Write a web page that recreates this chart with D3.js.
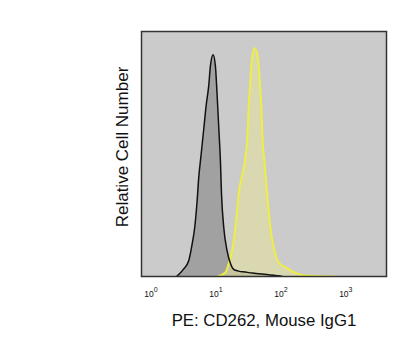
<!DOCTYPE html>
<html>
<head>
<meta charset="utf-8">
<script src="https://cdn.jsdelivr.net/npm/d3@7"></script>
<style>
html,body{margin:0;padding:0;background:#fff;}
svg{display:block;}
</style>
</head>
<body>
<svg id="chart" width="406" height="360"></svg>
<script>
// Fluorescence intensity (PE) and relative cell number (% of plot height)
const isotypeX = [2.7, 3.49, 4.17, 4.70, 5.15, 5.61, 5.94, 6.31, 7.10, 7.72, 8.47, 8.99, 9.89, 10.7, 11.4, 12.1, 12.8, 13.3, 14.4, 16.2, 18.3, 20.5, 24.3, 31.1, 40, 49.8, 60, 71.0, 85, 101, 115];
const isotypeY = [0, 3.1, 6.5, 13.3, 20.1, 31.0, 40.5, 47.3, 60.3, 69.8, 78.0, 86.1, 90.5, 86.1, 73.9, 60.3, 47.3, 33.9, 20.1, 10.6, 5.3, 2.9, 2.2, 1.8, 1.4, 1.1, 0.9, 0.7, 0.5, 0.3, 0];
const cd262X = [11.5, 15.3, 17.2, 19.4, 21.8, 24.5, 30.5, 33.0, 34.9, 37.1, 39.4, 43.2, 48.1, 51.6, 54.7, 57.3, 60.9, 67.0, 75.3, 84.7, 101, 128, 172, 260, 528, 753];
const cd262Y = [0, 1.6, 5.2, 10.6, 20.1, 33.8, 47.3, 55.5, 69.1, 80.0, 89.5, 93.3, 89.5, 80.0, 69.1, 55.5, 47.3, 33.8, 20.1, 12.0, 5.8, 3.8, 1.8, 0.4, 0.1, 0];
const tickValues = [1, 10, 100, 1000];
const tickExponents = ["0", "1", "2", "3"];
const xTitle = "PE: CD262, Mouse IgG1";
const yTitle = "Relative Cell Number";

const svg = d3.select("#chart");
const plot = {left: 141.5, top: 31.5, right: 386.5, bottom: 276.5};

const x = d3.scaleLog()
  .domain([Math.pow(10, -0.108), Math.pow(10, 3.665)])
  .range([plot.left, plot.right]);
const y = d3.scaleLinear().domain([0, 100]).range([plot.bottom, plot.top]);

svg.append("rect")
  .attr("x", plot.left).attr("y", plot.top)
  .attr("width", plot.right - plot.left).attr("height", plot.bottom - plot.top)
  .attr("fill", "#cbcbcb");

const defs = svg.append("defs");
defs.append("clipPath").attr("id", "clip").append("rect")
  .attr("x", plot.left).attr("y", plot.top)
  .attr("width", plot.right - plot.left).attr("height", plot.bottom - plot.top);

const iso = isotypeX.map((v, i) => [v, isotypeY[i]]);
const cd = cd262X.map((v, i) => [v, cd262Y[i]]);

const area = d3.area().x(d => x(d[0])).y0(y(0)).y1(d => y(d[1])).curve(d3.curveMonotoneX);
const line = d3.line().x(d => x(d[0])).y(d => y(d[1])).curve(d3.curveMonotoneX);

const g = svg.append("g").attr("clip-path", "url(#clip)");
g.append("path").datum(iso).attr("d", area).attr("fill", "#a1a1a1");
g.append("path").datum(cd).attr("d", area).attr("fill", "#e6e39a").attr("fill-opacity", 0.55);
g.append("path").datum(cd).attr("d", line).attr("fill", "none").attr("stroke", "#eeee44").attr("stroke-width", 2);
g.append("path").datum(iso).attr("d", line).attr("fill", "none").attr("stroke", "#111").attr("stroke-width", 1.5);

// frame
svg.append("rect")
  .attr("x", plot.left).attr("y", plot.top)
  .attr("width", plot.right - plot.left).attr("height", plot.bottom - plot.top)
  .attr("fill", "none").attr("stroke", "#333").attr("stroke-width", 1.5);

// tick labels
const offset = 2.5;
const tl = svg.append("g").attr("font-family", "Liberation Sans, Arial, sans-serif").attr("fill", "#111");
tickValues.forEach((v, i) => {
  const t = tl.append("text")
    .attr("x", x(v) + offset).attr("y", 297)
    .attr("text-anchor", "middle")
    .attr("font-size", 8.5);
  t.append("tspan").text("10");
  t.append("tspan").attr("dy", -5).attr("font-size", 7).text(tickExponents[i]);
});

svg.append("text")
  .attr("x", 264).attr("y", 326)
  .attr("text-anchor", "middle")
  .attr("font-family", "Liberation Sans, Arial, sans-serif")
  .attr("font-size", 16.8).attr("fill", "#111")
  .text(xTitle);

svg.append("text")
  .attr("transform", "translate(128,147) rotate(-90)")
  .attr("text-anchor", "middle")
  .attr("font-family", "Liberation Sans, Arial, sans-serif")
  .attr("font-size", 17).attr("fill", "#111")
  .text(yTitle);
</script>
</body>
</html>
